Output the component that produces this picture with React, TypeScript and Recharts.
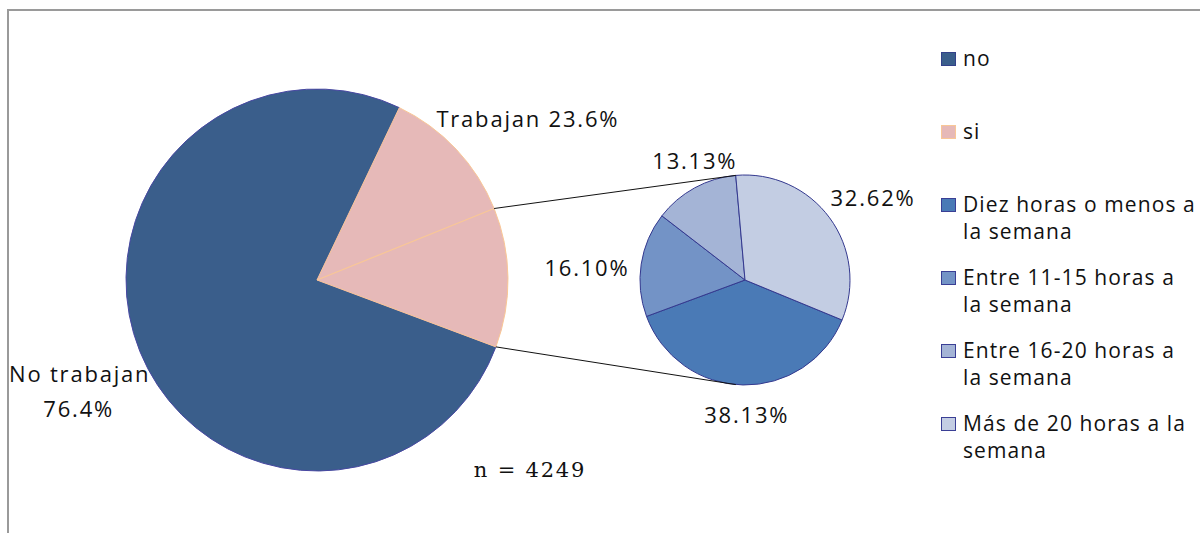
import React from 'react';
import { PieChart, Pie, Cell, Legend } from 'recharts';

// ---- data ----
const BIG_NAMES = ['no', 'si'];
const BIG_LABELS = ['No trabajan', 'Trabajan'];
const BIG_VALUES = [76.4, 23.6];

const HOURS_NAMES = [
  'Diez horas o menos a la semana',
  'Entre 11-15 horas a la semana',
  'Entre 16-20 horas a la semana',
  'Más de 20 horas a la semana',
];
const HOURS_VALUES = [38.13, 16.1, 13.13, 32.62];
const SAMPLE_NOTE = 'n = 4249';

// ---- styles / layout ----
const BIG_COLORS = ['#3a5e8b', '#e6b9b8'];
const BIG_STROKES = ['#4848a2', '#f9c796'];
const SMALL_COLORS = ['#4a7ab6', '#7393c6', '#a4b4d6', '#c3cde3'];
const SMALL_STROKE = '#34398f';
const SMALL_LEGEND_BORDER = '#3a3f95';

const BIG = { cx: 317, cy: 280, r: 191, start: -20.5 };
const SMALL = { cx: 745, cy: 280, r: 105, start: -22.4, connect: 95 };

// label placement relative to slice mid angle (degrees shift, distance from centre)
const BIG_LABEL_POS = [
  { shift: 3.1, dist: 262 },
  { shift: 15.3, dist: 265 },
];
const SMALL_LABEL_POS = [
  { shift: 1.8, dist: 135 },
  { shift: 4.4, dist: 158.5 },
  { shift: -5.8, dist: 129 },
  { shift: -3.7, dist: 152 },
];
const LEGEND_WRAP_CHARS = 20;

const FONT = '"Open Sans", sans-serif';
const RAD = Math.PI / 180;
const polar = (cx: number, cy: number, r: number, a: number) => ({
  x: cx + r * Math.cos(-a * RAD),
  y: cy + r * Math.sin(-a * RAD),
});

const wrapWords = (s: string, max: number) => {
  const lines: string[] = [];
  let cur = '';
  s.split(' ').forEach((w) => {
    const next = cur ? cur + ' ' + w : w;
    if (next.length > max && cur) {
      lines.push(cur);
      cur = w;
    } else cur = next;
  });
  if (cur) lines.push(cur);
  return lines;
};

const bigData = BIG_NAMES.map((n, i) => ({ name: n, value: BIG_VALUES[i] }));
const smallData = HOURS_NAMES.map((n, i) => ({ name: n, value: HOURS_VALUES[i] }));

const textStyle: React.CSSProperties = { fontFamily: FONT, fontSize: 22, letterSpacing: 1.8 };

const renderBigLabel = (p: any) => {
  const { cx, cy, outerRadius, midAngle, endAngle, index } = p;
  const pos = BIG_LABEL_POS[index];
  const c = polar(cx, cy, pos.dist, midAngle + pos.shift);
  const pct = BIG_VALUES[index].toFixed(1) + '%';
  if (index === 0) {
    return (
      <g key={`bl-${index}`}>
        <text x={c.x} y={c.y - 17.5 + 8} textAnchor="middle" fill="#111" style={textStyle}>
          {BIG_LABELS[index]}
        </text>
        <text x={c.x - 1} y={c.y + 17.5 + 8} textAnchor="middle" fill="#111" style={textStyle}>
          {pct}
        </text>
      </g>
    );
  }
  const mid = polar(cx, cy, outerRadius, midAngle);
  const end = polar(cx, cy, outerRadius, endAngle);
  const sTop = polar(SMALL.cx, SMALL.cy, SMALL.r, SMALL.connect);
  const sBot = polar(SMALL.cx, SMALL.cy, SMALL.r, -SMALL.connect);
  return (
    <g key={`bl-${index}`}>
      <line x1={cx} y1={cy} x2={mid.x} y2={mid.y} stroke={BIG_STROKES[1]} strokeWidth={1.2} />
      <line x1={mid.x} y1={mid.y} x2={sTop.x} y2={sTop.y} stroke="#111" strokeWidth={1} />
      <line x1={end.x} y1={end.y} x2={sBot.x} y2={sBot.y} stroke="#111" strokeWidth={1} />
      <text x={c.x} y={c.y + 8} textAnchor="middle" fill="#111" style={textStyle}>
        {BIG_LABELS[index] + ' ' + pct}
      </text>
    </g>
  );
};

const renderSmallLabel = (p: any) => {
  const { cx, cy, midAngle, index } = p;
  const pos = SMALL_LABEL_POS[index];
  const c = polar(cx, cy, pos.dist, midAngle + pos.shift);
  return (
    <text key={`sl-${index}`} x={c.x} y={c.y + 8} textAnchor="middle" fill="#111" style={textStyle}>
      {HOURS_VALUES[index].toFixed(2) + '%'}
    </text>
  );
};

const legendItems = [
  ...BIG_NAMES.map((n, i) => ({ name: n, color: BIG_COLORS[i], border: i === 0 ? '#33418a' : BIG_STROKES[1] })),
  ...HOURS_NAMES.map((n, i) => ({ name: n, color: SMALL_COLORS[i], border: SMALL_LEGEND_BORDER })),
];

const LegendContent = () => (
  <div style={{ fontFamily: FONT, fontSize: 21, letterSpacing: 1.1, color: '#111' }}>
    {legendItems.map((it, i) => (
      <div key={i} style={{ display: 'flex', height: 73, alignItems: 'flex-start' }}>
        <div
          style={{
            width: 15,
            height: 14,
            background: it.color,
            border: `1px solid ${it.border}`,
            boxSizing: 'border-box',
            marginTop: 7,
            marginRight: 7,
            flexShrink: 0,
          }}
        />
        <div style={{ width: 260, lineHeight: '27px', whiteSpace: 'nowrap' }}>
          {wrapWords(it.name, LEGEND_WRAP_CHARS).map((l, j) => (
            <div key={j}>{l}</div>
          ))}
        </div>
      </div>
    ))}
  </div>
);

export default function App() {
  return (
    <div
      style={{
        position: 'absolute',
        left: 0,
        top: 0,
        width: 1200,
        height: 533,
        overflow: 'hidden',
        background: '#fff',
      }}
    >
      <div
        style={{
          position: 'absolute',
          left: 7,
          top: 9,
          width: 1400,
          height: 800,
          borderTop: '2px solid #9a9a9a',
          borderLeft: '2px solid #9a9a9a',
        }}
      />
      <div style={{ position: 'absolute', left: 0, top: 0 }}>
        <PieChart width={1200} height={533} margin={{ top: 0, right: 0, bottom: 0, left: 0 }}>
          <Pie
            data={bigData}
            dataKey="value"
            nameKey="name"
            cx={BIG.cx}
            cy={BIG.cy}
            outerRadius={BIG.r}
            startAngle={BIG.start}
            endAngle={BIG.start - 360}
            isAnimationActive={false}
            label={renderBigLabel}
            labelLine={false}
          >
            {bigData.map((d, i) => (
              <Cell key={d.name} fill={BIG_COLORS[i]} stroke={BIG_STROKES[i]} strokeWidth={1} />
            ))}
          </Pie>
          <Pie
            data={smallData}
            dataKey="value"
            nameKey="name"
            cx={SMALL.cx}
            cy={SMALL.cy}
            outerRadius={SMALL.r}
            startAngle={SMALL.start}
            endAngle={SMALL.start - 360}
            isAnimationActive={false}
            label={renderSmallLabel}
            labelLine={false}
          >
            {smallData.map((d, i) => (
              <Cell key={d.name} fill={SMALL_COLORS[i]} stroke={SMALL_STROKE} strokeWidth={1} />
            ))}
          </Pie>
          <Legend
            layout="vertical"
            align="right"
            verticalAlign="top"
            content={() => <LegendContent />}
            wrapperStyle={{ left: 941, top: 45, width: 262 }}
          />
        </PieChart>
      </div>
      <div
        style={{
          position: 'absolute',
          left: 430,
          width: 200,
          top: 455,
          textAlign: 'center',
          fontFamily: '"DejaVu Serif", serif',
          fontSize: 21,
          letterSpacing: 1.8,
          color: '#111',
          lineHeight: '30px',
        }}
      >
        {SAMPLE_NOTE}
      </div>
    </div>
  );
}
